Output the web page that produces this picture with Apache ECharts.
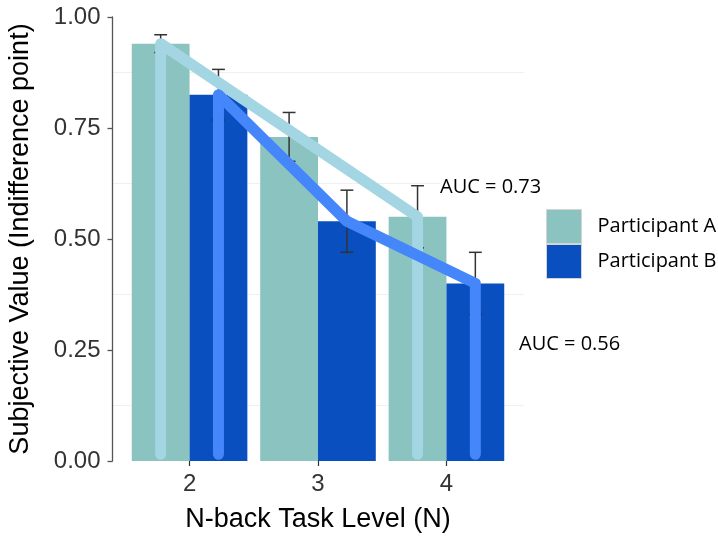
<!DOCTYPE html>
<html>
<head>
<meta charset="utf-8">
<script src="https://cdn.jsdelivr.net/npm/echarts@6/dist/echarts.min.js"></script>
<style>
  html, body { margin: 0; padding: 0; background: #ffffff; }
  #chart { width: 718px; height: 538px; }
</style>
</head>
<body>
<div id="chart"></div>
<script>
// N-back levels and mean subjective values (indifference points)
const levels = [2, 3, 4];
const participantA = [0.94, 0.73, 0.55];
const participantB = [0.825, 0.54, 0.40];
// error bar half-lengths
const errA = [0.02, 0.055, 0.07];
const errB = [0.057, 0.07, 0.07];

// discounting curves drawn over the bars
const curveALevels = [2, 4];
const curveAValues = [0.94, 0.55];
const curveBLevels = [2, 3, 4];
const curveBValues = [0.825, 0.54, 0.40];
const curveFloor = 0.015;

const seriesNames = ['Participant A', 'Participant B'];
const aucLabels = ['AUC = 0.73', 'AUC = 0.56'];

const colors = {
  barA: '#8bc3c1',
  barB: '#0a4fbf',
  lineA: '#a3d5e3',
  lineB: '#4686fb',
  err: '#333333'
};

const barW = 0.45;          // width of one dodged bar, in axis units
const dodge = barW / 2;     // offset of each bar from its level
const whisker = 0.05;       // half width of error bar caps, in axis units

function barRenderer(offset, color) {
  return function (params, api) {
    const x = api.value(0) + offset;
    const v = api.value(1);
    const p0 = api.coord([x - barW / 2, v]);
    const p1 = api.coord([x + barW / 2, 0]);
    return {
      type: 'rect',
      shape: { x: p0[0], y: p0[1], width: p1[0] - p0[0], height: p1[1] - p0[1] },
      style: { fill: color }
    };
  };
}

function errorRenderer(offset) {
  return function (params, api) {
    const x = api.value(0) + offset;
    const lo = api.value(1);
    const hi = api.value(2);
    const top = api.coord([x, hi]);
    const bot = api.coord([x, lo]);
    const l = api.coord([x - whisker, hi])[0];
    const r = api.coord([x + whisker, hi])[0];
    const st = { stroke: colors.err, lineWidth: 1.5 };
    return {
      type: 'group',
      children: [
        { type: 'line', shape: { x1: top[0], y1: top[1], x2: bot[0], y2: bot[1] }, style: st },
        { type: 'line', shape: { x1: l, y1: top[1], x2: r, y2: top[1] }, style: st },
        { type: 'line', shape: { x1: l, y1: bot[1], x2: r, y2: bot[1] }, style: st }
      ]
    };
  };
}

function curvePath(lv, vals, offset) {
  const pts = [[lv[0] + offset, curveFloor]];
  lv.forEach((l, i) => pts.push([l + offset, vals[i]]));
  pts.push([lv[lv.length - 1] + offset, curveFloor]);
  return pts;
}

const axisFont = 'Liberation Sans, Arial, Helvetica, sans-serif';
const noteFont = 'Open Sans, sans-serif';

const chart = echarts.init(document.getElementById('chart'));
chart.setOption({
  animation: false,
  backgroundColor: '#ffffff',
  grid: { left: 112.5, right: 194.5, top: 17, bottom: 77, containLabel: false, outerBoundsMode: 'none' },
  xAxis: {
    type: 'value',
    min: 1.4,
    max: 4.6,
    name: 'N-back Task Level (N)',
    nameLocation: 'middle',
    nameGap: 45,
    nameTextStyle: { fontFamily: axisFont, fontSize: 27, color: '#000000' },
    axisLine: { show: false },
    splitLine: { show: false },
    axisTick: { show: true, customValues: levels, length: 5, lineStyle: { color: '#333333', width: 1.2 } },
    axisLabel: { customValues: levels, fontFamily: axisFont, fontSize: 24, color: '#333333', margin: 11 }
  },
  yAxis: {
    type: 'value',
    min: 0,
    max: 1,
    interval: 0.25,
    name: 'Subjective Value (Indifference point)',
    nameLocation: 'middle',
    nameGap: 78,
    nameTextStyle: { fontFamily: axisFont, fontSize: 27, color: '#000000' },
    axisLine: { show: true, lineStyle: { color: '#555555', width: 1.3 } },
    axisTick: { show: true, length: 5, lineStyle: { color: '#555555', width: 1.3 } },
    axisLabel: {
      fontFamily: axisFont, fontSize: 24, color: '#333333', margin: 12,
      formatter: v => v.toFixed(2)
    },
    splitLine: { show: false },
    minorTick: { show: false, splitNumber: 2 },
    minorSplitLine: { show: true, lineStyle: { color: '#f0f0f0', width: 1 } }
  },
  legend: {
    orient: 'vertical',
    left: 546,
    top: 209,
    padding: 0,
    itemWidth: 35,
    itemHeight: 34,
    itemGap: 0,
    selectedMode: false,
    textStyle: { fontFamily: noteFont, fontSize: 20, color: '#000000', padding: [2, 0, 0, 11] },
    data: [
      { name: seriesNames[0], icon: 'rect', itemStyle: { color: colors.barA, borderColor: '#d4d4d4', borderWidth: 1 } },
      { name: seriesNames[1], icon: 'rect', itemStyle: { color: colors.barB, borderColor: '#d4d4d4', borderWidth: 1 } }
    ]
  },
  graphic: [
    {
      type: 'text', x: 440, y: 187, z: 10,
      style: { text: aucLabels[0], font: '20px ' + noteFont, fill: '#000000', verticalAlign: 'middle',
               backgroundColor: '#ffffff', padding: [2, 0, 2, 0] }
    },
    {
      type: 'text', x: 519, y: 344, z: 10,
      style: { text: aucLabels[1], font: '20px ' + noteFont, fill: '#000000', verticalAlign: 'middle',
               backgroundColor: '#ffffff', padding: [2, 0, 2, 0] }
    }
  ],
  series: [
    {
      name: seriesNames[0],
      type: 'custom',
      itemStyle: { color: colors.barA },
      renderItem: barRenderer(-dodge, colors.barA),
      data: levels.map((l, i) => [l, participantA[i]]),
      z: 1
    },
    {
      name: seriesNames[1],
      type: 'custom',
      itemStyle: { color: colors.barB },
      renderItem: barRenderer(dodge, colors.barB),
      data: levels.map((l, i) => [l, participantB[i]]),
      z: 1
    },
    {
      type: 'custom',
      renderItem: errorRenderer(-dodge),
      data: levels.map((l, i) => [l, participantA[i] - errA[i], participantA[i] + errA[i]]),
      z: 2
    },
    {
      type: 'custom',
      renderItem: errorRenderer(dodge),
      data: levels.map((l, i) => [l, participantB[i] - errB[i], participantB[i] + errB[i]]),
      z: 2
    },
    {
      type: 'line',
      data: curvePath(curveALevels, curveAValues, -dodge),
      showSymbol: false,
      lineStyle: { color: colors.lineA, width: 11, cap: 'round', join: 'round' },
      z: 3
    },
    {
      type: 'line',
      data: curvePath(curveBLevels, curveBValues, dodge),
      showSymbol: false,
      lineStyle: { color: colors.lineB, width: 11, cap: 'round', join: 'round' },
      z: 4
    }
  ]
});
</script>
</body>
</html>
